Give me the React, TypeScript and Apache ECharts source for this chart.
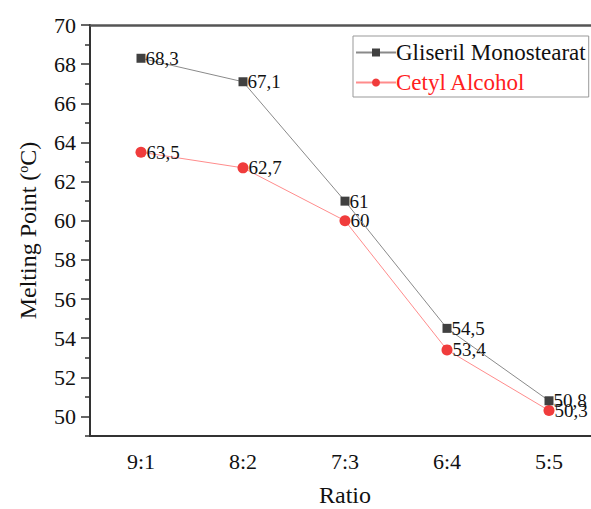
import React, { useEffect, useRef } from "react";
import * as echarts from "echarts";

const categories = ["9:1", "8:2", "7:3", "6:4", "5:5"];
const gliserilValues = [68.3, 67.1, 61, 54.5, 50.8];
const cetylValues = [63.5, 62.7, 60, 53.4, 50.3];
const majorTicks = [50, 52, 54, 56, 58, 60, 62, 64, 66, 68, 70];
const minorTicks = [49, 51, 53, 55, 57, 59, 61, 63, 65, 67, 69];

const FONT = "Liberation Serif";

export default function App() {
  const ref = useRef<HTMLDivElement>(null);
  useEffect(() => {
    if (!ref.current) return;
    const chart = echarts.init(ref.current, null, { renderer: "svg" });
    const fmt = (p: any) => String(p.value).replace(".", ",");
    chart.setOption({
      animation: false,
      backgroundColor: "#fff",
      textStyle: { fontFamily: FONT },
      grid: { left: 90, top: 25, width: 510, height: 411, containLabel: false, outerBoundsMode: "none" },
      legend: {
        left: 353,
        top: 36,
        orient: "vertical",
        itemWidth: 40,
        itemHeight: 10,
        itemGap: 7,
        padding: [5, 3, 3, 2],
        borderColor: "#999",
        borderWidth: 1,
        textStyle: { fontFamily: FONT, fontSize: 23, padding: [0, 0, 0, -5] },
        data: [
          { name: "Gliseril Monostearat", textStyle: { color: "#111" } },
          { name: "Cetyl Alcohol", textStyle: { color: "#ff2020" } },
        ],
      },
      xAxis: [
        {
          type: "category",
          data: categories,
          boundaryGap: true,
          name: "Ratio",
          nameLocation: "middle",
          nameGap: 47,
          nameTextStyle: { fontFamily: FONT, fontSize: 24, color: "#111", lineHeight: 24 },
          axisLine: { lineStyle: { color: "#333", width: 2 } },
          axisTick: { alignWithLabel: true, length: 7, lineStyle: { color: "#333", width: 1.5 } },
          axisLabel: { fontFamily: FONT, fontSize: 22, color: "#111", margin: 14 },
          splitLine: { show: false },
        },
        {
          type: "category",
          data: categories,
          position: "top",
          axisLine: { lineStyle: { color: "#555", width: 2.5 } },
          axisTick: { show: false },
          axisLabel: { show: false },
        },
      ],
      yAxis: [
        {
          type: "value",
          min: 49,
          max: 70,
          name: "Melting Point ({sup|o}C)",
          nameLocation: "middle",
          nameGap: 50,
          nameRotate: 90,
          nameTextStyle: {
            fontFamily: FONT,
            fontSize: 24,
            color: "#111",
            rich: { sup: { fontFamily: FONT, fontSize: 14, verticalAlign: "top", padding: [0, 0, 10, 0], color: "#111" } },
          },
          axisLine: { show: true, lineStyle: { color: "#333", width: 2 } },
          axisTick: { show: true, length: 9, customValues: majorTicks, lineStyle: { color: "#333", width: 1.5 } },
          axisLabel: { fontFamily: FONT, fontSize: 22, color: "#111", margin: 14, customValues: majorTicks },
          splitLine: { show: false },
        },
        {
          type: "value",
          min: 49,
          max: 70,
          position: "left",
          axisLine: { show: false },
          axisTick: { show: true, length: 5, customValues: minorTicks, lineStyle: { color: "#333", width: 1.5 } },
          axisLabel: { show: false, customValues: minorTicks },
          splitLine: { show: false },
        },
      ],
      series: [
        {
          name: "Gliseril Monostearat",
          type: "line",
          data: gliserilValues,
          symbol: "rect",
          symbolSize: 9,
          itemStyle: { color: "#404040" },
          lineStyle: { color: "#8a8a8a", width: 1 },
          label: { show: true, position: "right", distance: 0, formatter: fmt, fontFamily: FONT, fontSize: 19, color: "#111" },
          z: 3,
        },
        {
          name: "Cetyl Alcohol",
          type: "line",
          data: cetylValues,
          symbol: "circle",
          symbolSize: 11,
          itemStyle: { color: "#f03c3c" },
          lineStyle: { color: "#ff8c8c", width: 1 },
          label: { show: true, position: "right", distance: 0, formatter: fmt, fontFamily: FONT, fontSize: 19, color: "#111" },
          z: 2,
        },
      ],
    });
    return () => chart.dispose();
  }, []);
  return <div ref={ref} style={{ position: "fixed", left: 0, top: 0, width: 591, height: 509 }} />;
}
